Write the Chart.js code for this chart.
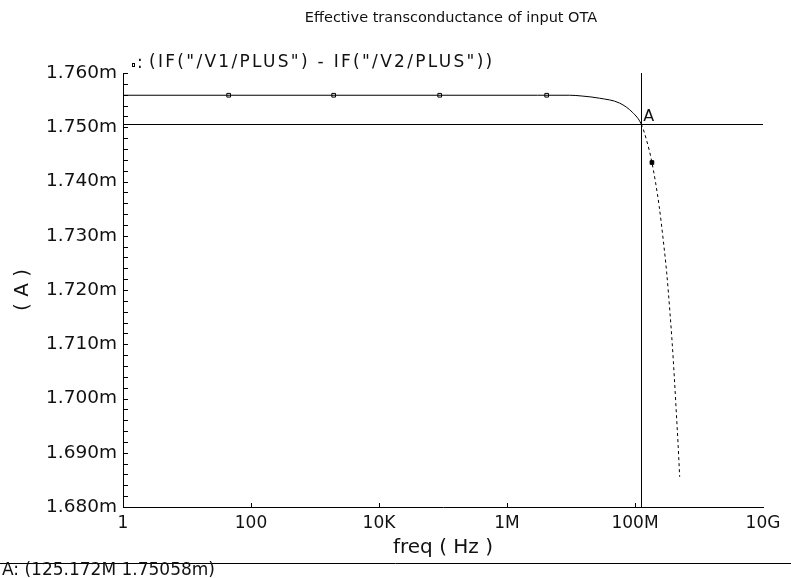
<!DOCTYPE html>
<html>
<head>
<meta charset="utf-8">
<script src="https://cdn.jsdelivr.net/npm/chart.js@4.4.0/dist/chart.umd.min.js"></script>
<style>
    html, body { margin: 0; padding: 0; background: #fff; }
    #wrap { width: 791px; height: 578px; }
</style>
</head>
<body>
<div id="wrap"><canvas id="otaChart" width="791" height="578"></canvas></div>
<script>
// IF("/V1/PLUS") - IF("/V2/PLUS") in mA
const freqHz = [1, 10, 100, 1e3, 1e4, 1e5, 1e6, 3e6, 9.5e6, 1.5e7, 2.8e7, 5.75e7, 9.25e7, 1.25172e8,
    1.51e8, 1.84e8, 2.39e8, 2.76e8, 3.13e8, 3.52e8, 3.81e8, 4.11e8, 4.40e8, 4.70e8, 4.99e8];
const currentmA = [1.7559, 1.7559, 1.7559, 1.7559, 1.7559, 1.7559, 1.7559, 1.7559, 1.7559, 1.75575, 1.75535, 1.75445, 1.75268, 1.75058,
    1.74769, 1.74350, 1.73539, 1.72924, 1.72315, 1.71577, 1.71024, 1.70402, 1.69788, 1.69179, 1.68557];

// symbols that the plotter puts on the trace
const symbolFreqHz = [44.8, 1959, 88.8e3, 4.17e6, 1.84e8];
const symbolmA = [1.7559, 1.7559, 1.7559, 1.7559, 1.74350];

const xTickValues = [1, 100, 1e4, 1e6, 1e8, 1e10];
const xTickLabels = ["1", "100", "10K", "1M", "100M", "10G"];
const yLabelValues = [1.68, 1.69, 1.70, 1.71, 1.72, 1.73, 1.74, 1.75, 1.76];
const yTickLabels = ["1.680m", "1.690m", "1.700m", "1.710m", "1.720m", "1.730m", "1.740m", "1.750m", "1.760m"];

const markerA = [125.172e6, 1.75058];

const FONT = "DejaVu Sans";
const INK = "#111";

const otaDecor = {
    id: "otaDecor",
    beforeDatasetsDraw(chart) {
        const { ctx, chartArea: a, scales: { x, y } } = chart;
        ctx.save();
        ctx.strokeStyle = "#000";
        ctx.lineWidth = 1;
        ctx.beginPath();
        // tick marks point into the plot
        y.ticks.forEach(t => {
            const py = Math.round(y.getPixelForValue(t.value)) + 0.5;
            ctx.moveTo(a.left, py);
            ctx.lineTo(a.left + 5, py);
        });
        x.ticks.forEach((t, i) => {
            if (i === 0 || i === x.ticks.length - 1) return;
            const px = Math.round(x.getPixelForValue(t.value)) + 0.5;
            ctx.moveTo(px, a.bottom);
            ctx.lineTo(px, a.bottom - 4);
        });
        // marker A cross
        const mx = Math.round(x.getPixelForValue(markerA[0])) + 0.5;
        const my = Math.round(y.getPixelForValue(markerA[1])) + 0.5;
        ctx.moveTo(mx, a.top);
        ctx.lineTo(mx, a.bottom);
        ctx.moveTo(a.left, my);
        ctx.lineTo(a.right, my);
        ctx.stroke();
        ctx.restore();
    },
    afterDraw(chart) {
        const { ctx, scales: { x, y } } = chart;
        const W = chart.width;
        ctx.save();
        ctx.fillStyle = INK;
        ctx.textBaseline = "middle";

        ctx.font = "14.5px " + FONT;
        ctx.textAlign = "center";
        ctx.fillText("Effective transconductance of input OTA", 451, 18);

        // trace legend
        ctx.textAlign = "left";
        ctx.strokeStyle = "#000";
        ctx.lineWidth = 1;
        ctx.strokeRect(132.5, 63.5, 2, 3);
        ctx.font = "17px " + FONT;
        ctx.fillText(":", 137, 64);
        ctx.letterSpacing = "2.3px";
        ctx.fillText("(IF(\"/V1/PLUS\") - IF(\"/V2/PLUS\"))", 149, 63);
        ctx.letterSpacing = "0px";

        // marker label
        const mx = x.getPixelForValue(markerA[0]);
        const my = y.getPixelForValue(markerA[1]);
        ctx.font = "16px " + FONT;
        ctx.fillText("A", mx + 2, my - 7);

        // bottom readout
        ctx.beginPath();
        ctx.moveTo(0, 563.5);
        ctx.lineTo(W, 563.5);
        ctx.stroke();
        ctx.font = "17px " + FONT;
        ctx.fillText("A: (" + (markerA[0] / 1e6).toFixed(3) + "M " + markerA[1].toFixed(5) + "m)", 2, 571);
        ctx.restore();
    }
};

new Chart(document.getElementById("otaChart"), {
    type: "line",
    data: {
        datasets: [
            {
                label: "IF(\"/V1/PLUS\") - IF(\"/V2/PLUS\")",
                data: freqHz.map((f, i) => ({ x: f, y: currentmA[i] })),
                borderColor: "#000",
                borderWidth: 1,
                pointRadius: 0,
                cubicInterpolationMode: "monotone",
                segment: {
                    borderDash: ctx => ctx.p0.parsed.x >= markerA[0] ? [3, 3] : undefined
                }
            },
            {
                label: "symbols",
                data: symbolFreqHz.map((f, i) => ({ x: f, y: symbolmA[i] })),
                showLine: false,
                pointStyle: "rect",
                pointRadius: 2.6,
                borderWidth: 1,
                pointBorderColor: "#000",
                pointBackgroundColor: symbolFreqHz.map((f, i) => i === symbolFreqHz.length - 1 ? "#000" : "#fff")
            }
        ]
    },
    options: {
        responsive: false,
        animation: false,
        layout: { padding: { left: 0, top: 73, right: 28, bottom: 0 } },
        plugins: {
            legend: { display: false },
            tooltip: { enabled: false }
        },
        scales: {
            x: {
                type: "logarithmic",
                min: 1,
                max: 1e10,
                afterBuildTicks: s => { s.ticks = xTickValues.map(v => ({ value: v })); },
                afterFit: s => { s.height = 71; },
                grid: { display: false, drawTicks: false },
                border: { display: true, color: "#000", width: 1 },
                ticks: {
                    padding: 6,
                    color: INK,
                    maxRotation: 0,
                    autoSkip: false,
                    font: { family: FONT, size: 17 },
                    callback: (v, i) => xTickLabels[i]
                },
                title: {
                    display: true,
                    text: "freq ( Hz )",
                    color: INK,
                    font: { family: FONT, size: 20 },
                    padding: { top: 0, bottom: 18 }
                }
            },
            y: {
                min: 1.68,
                max: 1.76,
                ticks: {
                    stepSize: 0.002,
                    padding: 6,
                    color: INK,
                    autoSkip: false,
                    font: { family: FONT, size: 18.5 },
                    callback: v => {
                        const k = yLabelValues.findIndex(l => Math.abs(l - v) < 1e-7);
                        return k >= 0 ? yTickLabels[k] : "";
                    }
                },
                afterFit: s => { s.width = 123; },
                grid: { display: false, drawTicks: false },
                border: { display: true, color: "#000", width: 1 },
                title: {
                    display: true,
                    text: "( A )",
                    color: INK,
                    font: { family: FONT, size: 20 },
                    padding: { top: 11, bottom: 0 }
                }
            }
        }
    },
    plugins: [otaDecor]
});
</script>
</body>
</html>
